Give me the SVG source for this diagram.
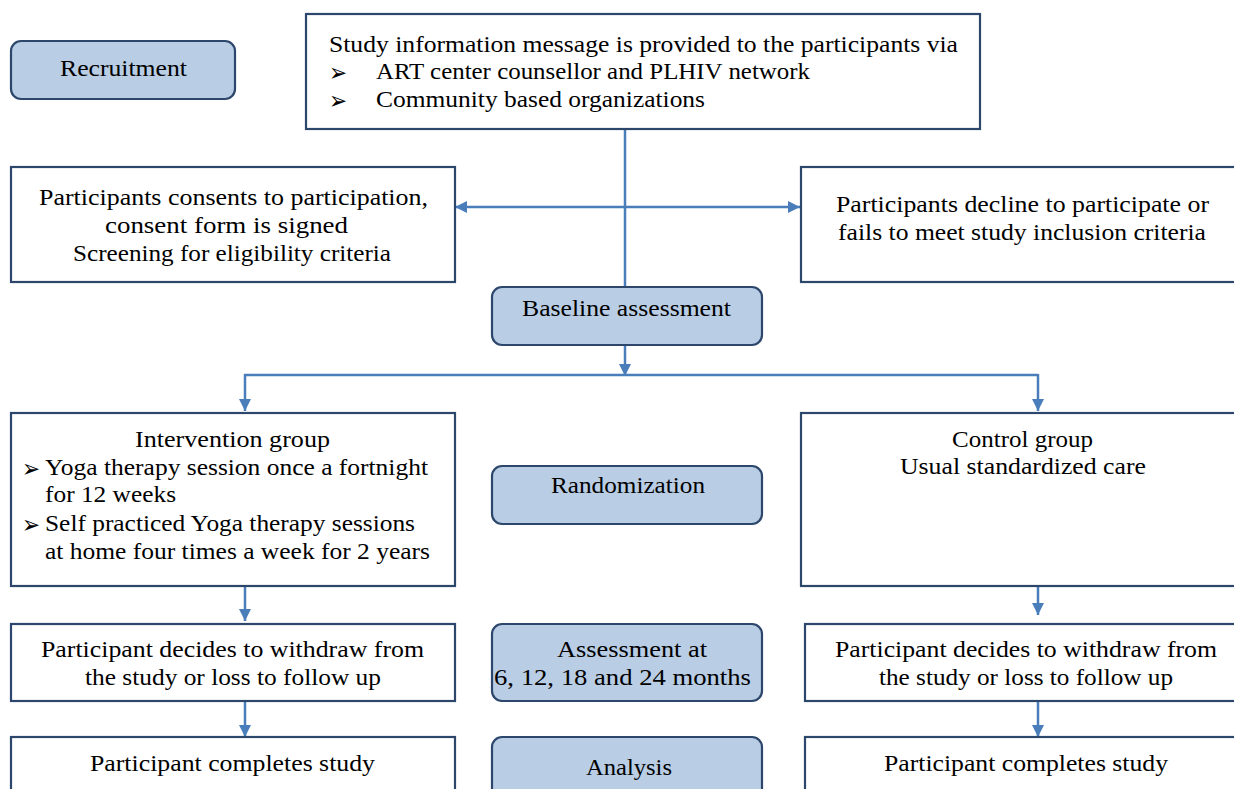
<svg xmlns="http://www.w3.org/2000/svg" width="1234" height="789" viewBox="0 0 1234 789">
<defs>
<style>
.box{fill:#ffffff;stroke:#2c476b;stroke-width:2.2}
.stage{fill:#b9cde5;stroke:#2c476b;stroke-width:2.2}
.t{font-family:"Liberation Serif","Times New Roman",serif;font-size:23px;fill:#000}
.b{font-family:"DejaVu Sans",sans-serif;font-size:25px;fill:#000}
.ln{stroke:#4a7ebb;stroke-width:2.5;fill:none}
</style>
<marker id="ah" viewBox="0 0 12 12" refX="12" refY="6" markerWidth="12" markerHeight="12" markerUnits="userSpaceOnUse" orient="auto-start-reverse">
<path d="M0,0 L12,6 L0,12 z" fill="#4a7ebb"/>
</marker>
</defs>
<rect width="1234" height="789" fill="#ffffff"/>

<g id="connectors">
<line class="ln" x1="625" y1="129" x2="625" y2="288"/>
<line class="ln" x1="455" y1="207" x2="800" y2="207" marker-start="url(#ah)" marker-end="url(#ah)"/>
<line class="ln" x1="625" y1="345" x2="625" y2="376" marker-end="url(#ah)"/>
<line class="ln" x1="244" y1="375" x2="1038" y2="375"/>
<line class="ln" x1="245" y1="374" x2="245" y2="411" marker-end="url(#ah)"/>
<line class="ln" x1="1038" y1="374" x2="1038" y2="411" marker-end="url(#ah)"/>
<line class="ln" x1="245" y1="586" x2="245" y2="621" marker-end="url(#ah)"/>
<line class="ln" x1="1038" y1="578" x2="1038" y2="615" marker-end="url(#ah)"/>
<line class="ln" x1="245" y1="701" x2="245" y2="737" marker-end="url(#ah)"/>
<line class="ln" x1="1038" y1="701" x2="1038" y2="737" marker-end="url(#ah)"/>
</g>

<g id="recruitment">
<rect class="stage" x="11" y="41" width="224" height="58" rx="10"/>
<text class="t" x="60" y="76" textLength="127" lengthAdjust="spacingAndGlyphs">Recruitment</text>
</g>

<g id="info">
<rect class="box" x="306" y="14" width="674" height="115"/>
<text class="t" x="329" y="52" textLength="629" lengthAdjust="spacingAndGlyphs">Study information message is provided to the participants via</text>
<text class="b" x="329" y="81" textLength="18" lengthAdjust="spacingAndGlyphs">➢</text>
<text class="t" x="376" y="79" textLength="434" lengthAdjust="spacingAndGlyphs">ART center counsellor and PLHIV network</text>
<text class="b" x="329" y="109" textLength="18" lengthAdjust="spacingAndGlyphs">➢</text>
<text class="t" x="376" y="107" textLength="329" lengthAdjust="spacingAndGlyphs">Community based organizations</text>
</g>

<g id="consent">
<rect class="box" x="11" y="167" width="444" height="115"/>
<text class="t" x="39" y="205" textLength="389" lengthAdjust="spacingAndGlyphs">Participants consents to participation,</text>
<text class="t" x="105" y="233" textLength="243" lengthAdjust="spacingAndGlyphs">consent form is signed</text>
<text class="t" x="73" y="261" textLength="318" lengthAdjust="spacingAndGlyphs">Screening for eligibility criteria</text>
</g>

<g id="decline">
<rect class="box" x="801" y="167" width="440" height="115"/>
<text class="t" x="836" y="212" textLength="373" lengthAdjust="spacingAndGlyphs">Participants decline to participate or</text>
<text class="t" x="838" y="240" textLength="368" lengthAdjust="spacingAndGlyphs">fails to meet study inclusion criteria</text>
</g>

<g id="baseline">
<rect class="stage" x="492" y="287" width="270" height="58" rx="10"/>
<text class="t" x="522" y="316" textLength="209" lengthAdjust="spacingAndGlyphs">Baseline assessment</text>
</g>

<g id="intervention">
<rect class="box" x="11" y="413" width="444" height="173"/>
<text class="t" x="135" y="447" textLength="195" lengthAdjust="spacingAndGlyphs">Intervention group</text>
<text class="b" x="22" y="477" textLength="18" lengthAdjust="spacingAndGlyphs">➢</text>
<text class="t" x="45" y="475" textLength="383" lengthAdjust="spacingAndGlyphs">Yoga therapy session once a fortnight</text>
<text class="t" x="45" y="502" textLength="131" lengthAdjust="spacingAndGlyphs">for 12 weeks</text>
<text class="b" x="22" y="533" textLength="18" lengthAdjust="spacingAndGlyphs">➢</text>
<text class="t" x="45" y="531" textLength="370" lengthAdjust="spacingAndGlyphs">Self practiced Yoga therapy sessions</text>
<text class="t" x="45" y="559" textLength="385" lengthAdjust="spacingAndGlyphs">at home four times a week for 2 years</text>
</g>

<g id="randomization">
<rect class="stage" x="492" y="466" width="270" height="58" rx="10"/>
<text class="t" x="551" y="493" textLength="154" lengthAdjust="spacingAndGlyphs">Randomization</text>
</g>

<g id="control">
<rect class="box" x="801" y="413" width="440" height="173"/>
<text class="t" x="952" y="447" textLength="141" lengthAdjust="spacingAndGlyphs">Control group</text>
<text class="t" x="900" y="474" textLength="246" lengthAdjust="spacingAndGlyphs">Usual standardized care</text>
</g>

<g id="withdraw-left">
<rect class="box" x="11" y="624" width="444" height="77"/>
<text class="t" x="41" y="657" textLength="383" lengthAdjust="spacingAndGlyphs">Participant decides to withdraw from</text>
<text class="t" x="85" y="685" textLength="296" lengthAdjust="spacingAndGlyphs">the study or loss to follow up</text>
</g>

<g id="assessment">
<rect class="stage" x="492" y="624" width="270" height="77" rx="10"/>
<text class="t" x="557" y="657" textLength="150" lengthAdjust="spacingAndGlyphs">Assessment at</text>
<text class="t" x="494" y="685" textLength="257" lengthAdjust="spacingAndGlyphs">6, 12, 18 and 24 months</text>
</g>

<g id="withdraw-right">
<rect class="box" x="805" y="624" width="436" height="77"/>
<text class="t" x="835" y="657" textLength="382" lengthAdjust="spacingAndGlyphs">Participant decides to withdraw from</text>
<text class="t" x="879" y="685" textLength="294" lengthAdjust="spacingAndGlyphs">the study or loss to follow up</text>
</g>

<g id="complete-left">
<rect class="box" x="11" y="737" width="444" height="70"/>
<text class="t" x="90" y="771" textLength="285" lengthAdjust="spacingAndGlyphs">Participant completes study</text>
</g>

<g id="analysis">
<rect class="stage" x="492" y="737" width="270" height="70" rx="10"/>
<text class="t" x="586" y="775" textLength="86" lengthAdjust="spacingAndGlyphs">Analysis</text>
</g>

<g id="complete-right">
<rect class="box" x="805" y="737" width="436" height="70"/>
<text class="t" x="884" y="771" textLength="284" lengthAdjust="spacingAndGlyphs">Participant completes study</text>
</g>
</svg>
